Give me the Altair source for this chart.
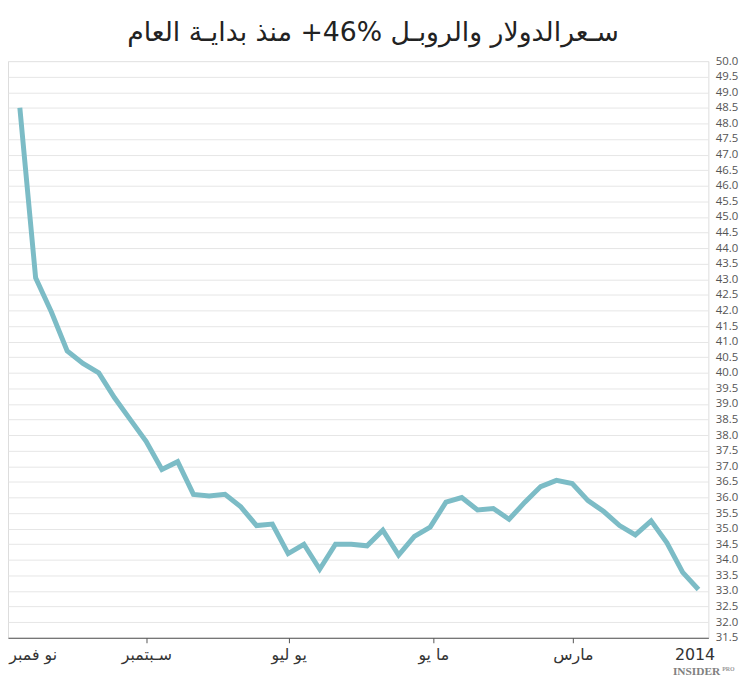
import altair as alt
import pandas as pd

title_text = "سـعرالدولار والروبـل %46+ منذ بدايـة العام"

# weekly USD/RUB rate, chronological: first week of 2014 (right) -> November 2014 (left)
rate = [33.05, 33.6, 34.55, 35.25, 34.8, 35.1, 35.55, 35.9, 36.45, 36.55,
        36.35, 35.85, 35.3, 35.65, 35.6, 36.0, 35.85, 35.05, 34.75, 34.15,
        34.95, 34.45, 34.5, 34.5, 33.7, 34.5, 34.2, 35.15, 35.1, 35.7,
        36.1, 36.05, 36.1, 37.15, 36.9, 37.8, 38.5, 39.2, 40.0, 40.3,
        40.7, 41.95, 43.05, 48.5]
weeks = list(range(len(rate)))

# month tick positions (in weeks since start of 2014) and their labels
tick_pos = [0.25, 7.96, 16.8, 25.96, 34.98, 43.7]
tick_labels = ["2014", "مارس", "ما يو", "يو ليو", "سـبتمبر", "نو فمبر"]

y_values = [31.5 + 0.5 * k for k in range(38)]

df = pd.DataFrame({"week": weeks, "rate": rate})

label_expr = "[" + ",".join("'" + t + "'" for t in tick_labels) + "][indexof([" + \
    ",".join(str(p) for p in tick_pos) + "], datum.value)]"

x_axis = alt.Axis(
    values=tick_pos,
    labelExpr=label_expr,
    title=None,
    grid=False,
    domainColor="#555555",
    domainWidth=1,
    tickColor={"condition": {"test": "datum.value < 1 || datum.value > 40", "value": "transparent"},
               "value": "#555555"},
    tickSize=5,
    labelAlign={"condition": {"test": "datum.value > 40", "value": "left"}, "value": "center"},
    labelFont="DejaVu Sans",
    labelFontSize=16,
    labelColor="#333333",
    labelPadding=4,
    labelFlush=False,
    labelOverlap=False,
)

y_axis = alt.Axis(
    orient="right",
    values=y_values,
    format=".1f",
    title=None,
    domain=False,
    ticks=False,
    gridColor="#e6e6e6",
    gridWidth=1,
    labelFont="Open Sans",
    labelFontSize=11.5,
    labelColor="#555555",
    labelPadding=7,
)

line = alt.Chart(df).mark_line(color="#7cbcc6", strokeWidth=5).encode(
    x=alt.X("week:Q", scale=alt.Scale(domain=[-0.627, 43.75], reverse=True, nice=False, zero=False), axis=x_axis),
    y=alt.Y("rate:Q", scale=alt.Scale(domain=[31.5, 50.0], nice=False, zero=False), axis=y_axis),
)

logo1 = alt.Chart(pd.DataFrame({"t": ["INSIDER"]})).mark_text(
    font="Liberation Serif", fontSize=11.5, fontWeight="bold", color="#808080", align="right",
    baseline="alphabetic", x=alt.ExprRef(expr="width + 12"), y=alt.ExprRef(expr="height + 38")
).encode(text="t:N")

logo2 = alt.Chart(pd.DataFrame({"t": ["PRO"]})).mark_text(
    font="Liberation Serif", fontSize=6, fontWeight="bold", color="#999999", align="left",
    baseline="alphabetic", x=alt.ExprRef(expr="width + 14"), y=alt.ExprRef(expr="height + 34")
).encode(text="t:N")

chart = alt.layer(line, logo1, logo2).properties(
    width=708,
    height=583,
    autosize=alt.AutoSizeParams(type="none"),
    padding={"left": 0, "right": 34, "top": 50, "bottom": 39},
    title=alt.TitleParams(
        text=title_text,
        font="DejaVu Sans",
        fontSize=27,
        fontWeight="normal",
        color="#222222",
        anchor="middle",
        dx=15,
        offset=8,
    ),
).configure_view(stroke=None).configure(background="white")

chart.save("out.html", embed_options={"renderer": "svg", "actions": False})
